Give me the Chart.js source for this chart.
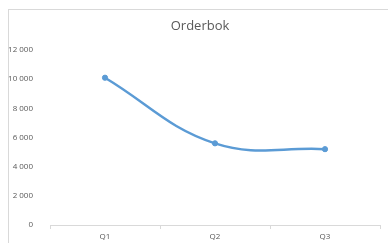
<!DOCTYPE html>
<html><head><meta charset="utf-8">
<script src="https://cdn.jsdelivr.net/npm/chart.js@4"></script>
<style>
html,body{margin:0;padding:0;background:#fff;overflow:hidden;width:388px;height:243px;}
#wrap{position:absolute;left:0;top:0;width:388px;height:243px;overflow:hidden;}
#frame{position:absolute;left:8px;top:9px;width:390px;height:250px;border-top:1px solid #d9d9d9;border-left:1px solid #d9d9d9;box-sizing:border-box;}
canvas{position:absolute;left:0;top:0;}
</style></head>
<body>
<div id="wrap"><div id="frame"></div><canvas id="c" width="388" height="243"></canvas></div>
<script>
const categories = ["Q1", "Q2", "Q3"];
const orderbok = [10100, 5600, 5200];
const chartTitle = "Orderbok";

const fmt = v => String(v).replace(/\B(?=(\d{3})+(?!\d))/g, "\u00a0");

const titlePlugin = {
  id: "centerTitle",
  afterDraw(chart) {
    const ctx = chart.ctx;
    ctx.save();
    ctx.fillStyle = "#595959";
    ctx.font = "13px 'Open Sans'";
    ctx.textAlign = "center";
    ctx.textBaseline = "middle";
    ctx.fillText(chartTitle, 200, 26);
    ctx.restore();
  }
};

new Chart(document.getElementById("c"), {
  type: "line",
  data: {
    labels: categories,
    datasets: [{
      label: chartTitle,
      data: orderbok,
      borderColor: "#5b9bd5",
      backgroundColor: "#5b9bd5",
      borderWidth: 2.5,
      pointRadius: 2.6,
      pointBorderWidth: 1,
      pointBackgroundColor: "#5b9bd5",
      pointBorderColor: "#5b9bd5",
      tension: 0.4,
      fill: false
    }]
  },
  options: {
    responsive: false,
    animation: false,
    devicePixelRatio: 1,
    layout: { padding: { left: 0, right: 8, top: 50, bottom: 0 } },
    plugins: {
      legend: { display: false },
      tooltip: { enabled: false },
      title: { display: false }
    },
    scales: {
      x: {
        offset: true,
        grid: { display: true, offset: true, drawOnChartArea: false, drawTicks: true, tickLength: 4, color: "#d9d9d9" },
        border: { display: true, color: "#d9d9d9" },
        ticks: { color: "#595959", font: { family: "Open Sans", size: 8 }, padding: 3 },
        afterFit: s => { s.height = 18; }
      },
      y: {
        min: 0, max: 12000,
        grid: { display: false },
        border: { display: false },
        ticks: { stepSize: 2000, color: "#595959", font: { family: "Open Sans", size: 8 }, padding: 9, callback: v => fmt(v) },
        afterFit: s => { s.width = 50; }
      }
    }
  },
  plugins: [titlePlugin]
});
</script>
</body></html>
